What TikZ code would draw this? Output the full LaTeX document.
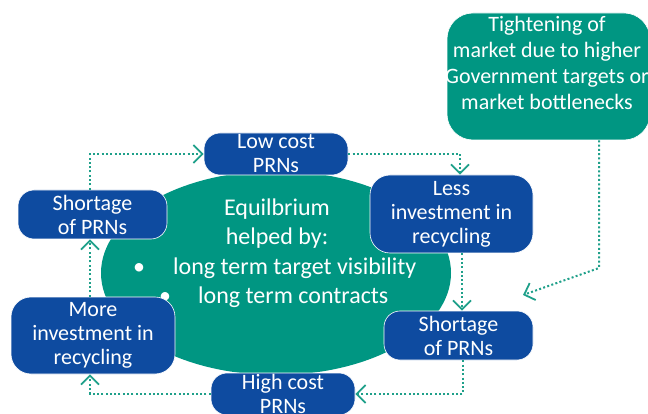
\documentclass[tikz,border=0pt]{standalone}
\usepackage{fontspec}
\setmainfont{Carlito}
\usetikzlibrary{arrows.meta,shapes.geometric}
\definecolor{boxblue}{HTML}{0E4BA0}
\definecolor{tealfill}{HTML}{009682}
\definecolor{conncol}{HTML}{1FA08A}
\begin{document}
\begin{tikzpicture}[x=1pt,y=-1pt,
  bluebox/.style={fill=boxblue, draw=white, line width=0.6pt, rounded corners=16pt,
    text=white, align=center, font=\fontsize{22}{24}\selectfont, inner sep=0pt},
  greenbox/.style={fill=tealfill, draw=white, line width=0.6pt, rounded corners=26pt, inner sep=0pt},
  wtext/.style={text=white, align=center, inner sep=0pt},
  eqfont/.style={font=\fontsize{24}{29}\selectfont},
  conn/.style={draw=conncol, line width=2pt, dash pattern=on 2pt off 2.3pt,
    -{Straight Barb[length=9pt,width=18pt,line width=1.8pt]}}
]
\useasboundingbox (0,0) rectangle (648,414);

% central ellipse
\node[ellipse, fill=tealfill, minimum width=350pt, minimum height=204pt, inner sep=0pt] (eq) at (276,273) {};
\node[wtext, anchor=base, eqfont] (eq1) at (277,216) {Equilbrium};
\node[wtext, anchor=base, eqfont] (eq2) at (277,245) {helped by:};
\node[wtext, anchor=base west, eqfont] (eq3) at (133,274) {\makebox[40pt][l]{•}long term target visibility};
\node[wtext, anchor=base west, eqfont] (eq4) at (159,303) {\makebox[39pt][l]{•}long term contracts};

% tightening box
\node[greenbox, minimum width=203pt, minimum height=127pt] (tight) at (548.5,76.5) {};
\node[wtext, font=\fontsize{22}{26}\selectfont] (tighttext) at (547,63) {Tightening of\\market due to higher\\Government targets or\\market bottlenecks};

% blue boxes
\node[bluebox, minimum width=144pt, minimum height=42pt] (low) at (276,154) {Low cost\\PRNs};
\node[bluebox, minimum width=149pt, minimum height=49pt] (ls) at (92.5,214.5) {Shortage\\of PRNs};
\node[bluebox, minimum width=163pt, minimum height=78pt, rounded corners=20pt] (less) at (451.5,214) {Less\\investment in\\recycling};
\node[bluebox, minimum width=149pt, minimum height=49pt] (rs) at (458.5,335.5) {Shortage\\of PRNs};
\node[bluebox, minimum width=164pt, minimum height=77pt, rounded corners=20pt] (more) at (93,335.5) {More\\investment in\\recycling};
\node[bluebox, minimum width=144pt, minimum height=42pt] (high) at (283,394) {High cost\\PRNs};

% connectors
\draw[conn] ([xshift=-2.5pt]ls.north) |- (low.west);
\draw[conn] (low.east) -| ([xshift=8.5pt]less.north);
\draw[conn] ([xshift=3.5pt]rs.north |- less.south) -- ([xshift=3.5pt]rs.north);
\draw[conn] ([xshift=4.5pt]rs.south) |- (high.east);
\draw[conn] (high.west) -| ([xshift=-3pt]more.south);
\draw[conn] ([xshift=-3pt]more.north) -- ([xshift=-3pt]more.north |- ls.south);
\coordinate (tbend) at (599,268);
\coordinate (tend) at (523,295);
\draw[conn] ([xshift=50.5pt]tight.south) -- (tbend) -- (tend);
\end{tikzpicture}
\end{document}
